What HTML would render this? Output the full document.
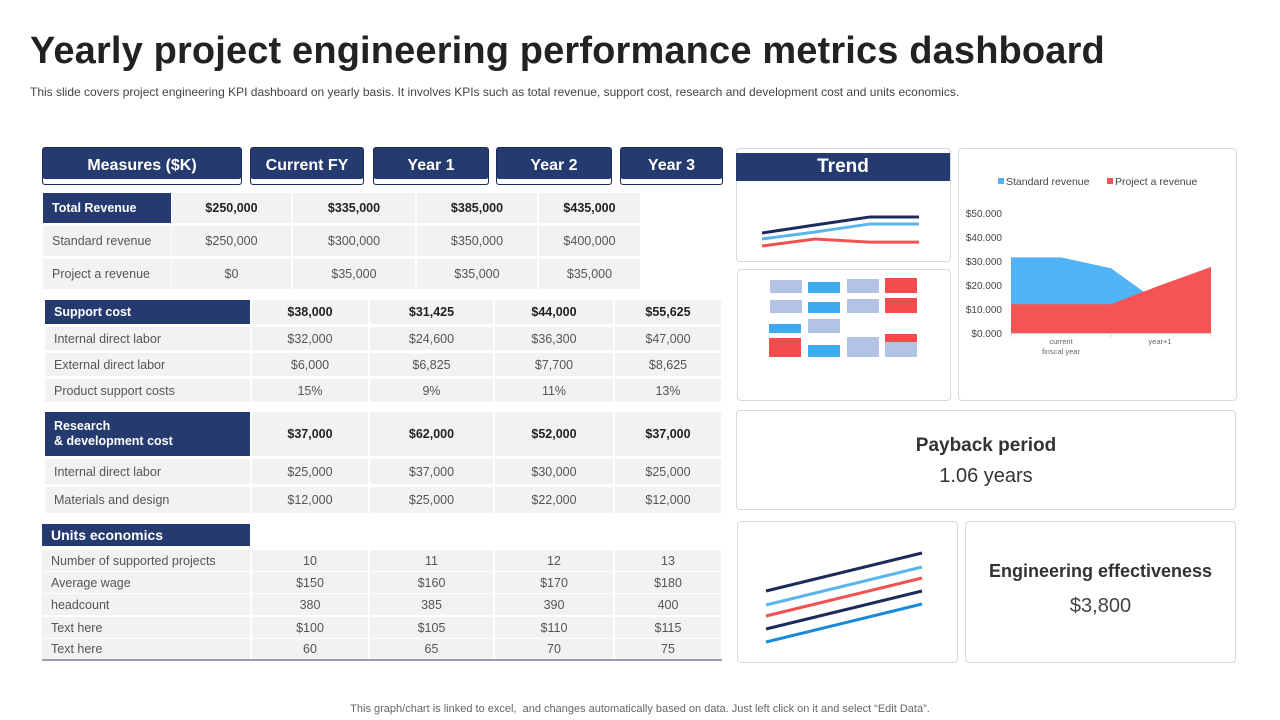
<!DOCTYPE html>
<html><head><meta charset="utf-8">
<style>
*{margin:0;padding:0;box-sizing:border-box}
body{width:1280px;height:720px;background:#fff;font-family:"Liberation Sans",sans-serif;position:relative;overflow:hidden;color:#222}
.a{position:absolute}
.hdr{position:absolute;background:#253b70;color:#fff;font-weight:bold;font-size:16px;text-align:center;border:1px solid #1b2c57;border-radius:3px;box-shadow:inset 0 -5px 0 #fff, inset 0 -6px 0 #253b70}
.c{position:absolute;background:#f2f2f2;display:flex;align-items:center;justify-content:center;font-size:12.5px;color:#555}
.b{font-weight:bold;color:#222}
.l{justify-content:flex-start;padding-left:9px;background:#f2f2f2}
.n{position:absolute;background:#253b70;color:#fff;font-weight:bold;font-size:12.5px;display:flex;align-items:center;padding-left:9px;line-height:15px}
.box{position:absolute;border:1px solid #d9d9d9;border-radius:4px;background:#fff}
</style></head><body>
<div class="a" style="left:30px;top:30px;font-size:38px;font-weight:bold;color:#222;letter-spacing:0.15px;white-space:nowrap">Yearly project engineering performance metrics dashboard</div>
<div class="a" style="left:30px;top:85px;font-size:12px;color:#444;white-space:nowrap">This slide covers project engineering KPI dashboard on yearly basis. It involves KPIs such as total revenue, support cost, research and development cost and units economics.</div>

<div class="hdr" style="left:42px;top:147px;width:200px;height:38px;line-height:36px">Measures ($K)</div>
<div class="hdr" style="left:250px;top:147px;width:114px;height:38px;line-height:36px">Current FY</div>
<div class="hdr" style="left:373px;top:147px;width:116px;height:38px;line-height:36px">Year 1</div>
<div class="hdr" style="left:496px;top:147px;width:116px;height:38px;line-height:36px">Year 2</div>
<div class="hdr" style="left:620px;top:147px;width:103px;height:38px;line-height:36px">Year 3</div>

<div id="tbl"></div>

<div class="box" style="left:736px;top:148px;width:215px;height:114px"></div>
<div class="a" style="left:736px;top:153px;width:214px;height:28px;background:#253b70;color:#fff;font-weight:bold;font-size:19px;text-align:center;line-height:28px">Trend</div>
<div class="box" style="left:737px;top:269px;width:214px;height:132px"></div>
<div class="box" style="left:958px;top:148px;width:279px;height:253px"></div>
<div class="box" style="left:736px;top:410px;width:500px;height:100px"></div>
<div class="a" style="left:736px;top:435px;width:500px;text-align:center;font-size:19px;font-weight:bold;color:#333">Payback period</div>
<div class="a" style="left:736px;top:465px;width:500px;text-align:center;font-size:20px;color:#333">1.06 years</div>
<div class="box" style="left:737px;top:521px;width:221px;height:142px"></div>
<div class="box" style="left:965px;top:521px;width:271px;height:142px"></div>
<div class="a" style="left:965px;top:561px;width:271px;text-align:center;font-size:18px;font-weight:bold;color:#333">Engineering effectiveness</div>
<div class="a" style="left:965px;top:595px;width:271px;text-align:center;font-size:20px;color:#444">$3,800</div>

<svg class="a" id="svg" style="left:0;top:0" width="1280" height="720"></svg>

<div class="a" style="left:0;top:703px;width:1280px;text-align:center;font-size:11px;color:#666">This graph/chart is linked to excel,&nbsp; and changes automatically based on data. Just left click on it and select “Edit Data”.</div>

<script>
// ---- Area chart data ----
const areaCategories = ["current fiscal year","","year+1","",""];
const standardRevenue = [31.5, 31.5, 27, 12, 8];
const projectRevenue = [12, 12, 12, 20, 27.5];
const yTicks = [0,10,20,30,40,50];
const yTickLabels = ["$0.000","$10.000","$20.000","$30.000","$40.000","$50.000"];
// ---- Trend mini chart data ----
const trendDark = [3.7, 6, 8.3, 8.3];
const trendLight = [2, 4, 6.3, 6.3];
const trendRed = [0, 2, 1.1, 1.1];

const NS="http://www.w3.org/2000/svg";
const svg=document.getElementById('svg');
function mk(tag,attrs){const e=document.createElementNS(NS,tag);for(const k in attrs)e.setAttribute(k,attrs[k]);svg.appendChild(e);return e;}

// table
const tbl=document.getElementById('tbl');
function cell(cls,x,y,w,h,txt){const d=document.createElement('div');d.className=cls;d.style.cssText=`left:${x}px;top:${y}px;width:${w}px;height:${h}px`;d.innerHTML=txt;tbl.appendChild(d);return d;}
const secs=[
 {cols:[[43,128],[172,119],[293,122],[417,120],[539,101]],rows:[
  [193,30,true,"Total Revenue",["$250,000","$335,000","$385,000","$435,000"]],
  [226,30,false,"Standard revenue",["$250,000","$300,000","$350,000","$400,000"]],
  [259,30,false,"Project a revenue",["$0","$35,000","$35,000","$35,000"]]]},
 {cols:[[45,205],[252,116],[370,123],[495,118],[615,106]],rows:[
  [300,24,true,"Support cost",["$38,000","$31,425","$44,000","$55,625"]],
  [327,23,false,"Internal direct labor",["$32,000","$24,600","$36,300","$47,000"]],
  [353,23,false,"External direct labor",["$6,000","$6,825","$7,700","$8,625"]],
  [379,23,false,"Product support costs",["15%","9%","11%","13%"]],
  [412,44,true,"Research<br>&amp; development cost",["$37,000","$62,000","$52,000","$37,000"]],
  [459,25,false,"Internal direct labor",["$25,000","$37,000","$30,000","$25,000"]],
  [487,26,false,"Materials and design",["$12,000","$25,000","$22,000","$12,000"]]]},
 {cols:[[42,208],[252,116],[370,123],[495,118],[615,106]],rows:[
  [550,21,false,"Number of supported projects",["10","11","12","13"]],
  [572,21,false,"Average  wage",["$150","$160","$170","$180"]],
  [594,21,false,"headcount",["380","385","390","400"]],
  [617,21,false,"Text here",["$100","$105","$110","$115"]],
  [639,20,false,"Text here",["60","65","70","75"]]]}
];
secs.forEach(s=>s.rows.forEach(r=>{
  const [y,h,bold,lab,vals]=r;
  const lc=cell(bold?'n':'c l',s.cols[0][0],y,s.cols[0][1],h,lab);
  
  
  vals.forEach((v,i)=>{const c=cell('c'+(bold?' b':''),s.cols[i+1][0],y,s.cols[i+1][1],h,v);
    
    });
}));
const ue=cell('n',42,524,208,22,'Units economics');ue.style.fontSize='14px';


const bl=cell('a',42,659,680,2,'');bl.style.background='#9aa0ab';



// trend mini lines
const ty=v=>246-v*3.5;
const tX=[762,815,870,919];
[[trendRed,'#ef5250'],[trendLight,'#5bb4ea'],[trendDark,'#1c2b5a']].forEach(([arr,col])=>{
  const p=mk('polyline',{points:arr.map((v,i)=>tX[i]+','+ty(v)).join(' '),fill:'none',stroke:col,'stroke-width':3});
  
  
});

// blocks
const blocks=[[770,280,32,13,'#b4c2e4'],[770,300,32,13,'#b4c2e4'],[769,324,32,9,'#3fa9ef'],[769,338,32,19,'#f24c4c'],
[808,282,32,11,'#3fa9ef'],[808,302,32,11,'#3fa9ef'],[808,319,32,14,'#b4c2e4'],[808,345,32,12,'#3fa9ef'],
[847,279,32,14,'#b4c2e4'],[847,299,32,14,'#b4c2e4'],[847,337,32,20,'#b4c2e4'],
[885,278,32,15,'#f24c4c'],[885,298,32,15,'#f24c4c'],[885,334,32,8,'#f24c4c'],[885,342,32,15,'#b4c2e4']];
blocks.forEach(b=>{const r=mk('rect',{x:b[0],y:b[1],width:b[2],height:b[3],fill:b[4]});
  
  });

// area chart
const X0=1011,X1=1211,Y0=333,Ypx=2.4;
const ax=i=>X0+i*(X1-X0)/(standardRevenue.length-1), ay=v=>Y0-v*Ypx;
yTicks.forEach((t,i)=>{const e=mk('text',{x:1002,y:ay(t)+4,'text-anchor':'end','font-size':10,fill:'#444','font-family':'Liberation Sans'});e.textContent=yTickLabels[i];
  
  });
[[standardRevenue,'#4fb3f5','area-standard-revenue'],[projectRevenue,'#f55454','area-project-revenue']].forEach(([arr,col,nm])=>{
  const pts=arr.map((v,i)=>ax(i)+','+ay(v)).join(' ')+` ${X1},${Y0} ${X0},${Y0}`;
  const p=mk('polygon',{points:pts,fill:col});
  
  
});
const axl=mk('line',{x1:X0,y1:Y0+0.5,x2:X1,y2:Y0+0.5,stroke:'#d0d0d0'});


[0,2,4].forEach(i=>{const tk=mk('line',{x1:ax(i),y1:Y0,x2:ax(i),y2:Y0+4,stroke:'#d0d0d0'});
  
  });
const xl=[["current",1061,344],["finscal year",1061,354],["year+1",1160,344]];
xl.forEach(l=>{const e=mk('text',{x:l[1],y:l[2],'text-anchor':'middle','font-size':7.5,fill:'#666','font-family':'Liberation Sans'});e.textContent=l[0];
  
  });
[[998,'#4fb3f5','Standard revenue'],[1107,'#f55454','Project a revenue']].forEach(l=>{
  const r=mk('rect',{x:l[0],y:178,width:6,height:6,fill:l[1]});
  
  
  const t=mk('text',{x:l[0]+8,y:185,'font-size':10.5,fill:'#444','font-family':'Liberation Sans'});t.textContent=l[2];
  
  
});

// decorative diagonal lines
[[591,553,'#1c2b5a'],[605,567,'#5bb4ea'],[616,578,'#ef5250'],[629,591,'#1c2b5a'],[642,604,'#1a8ad8']].forEach(d=>{
  const ln=mk('line',{x1:766,y1:d[0],x2:922,y2:d[1],stroke:d[2],'stroke-width':3});
  
  
});
</script>
</body></html>
